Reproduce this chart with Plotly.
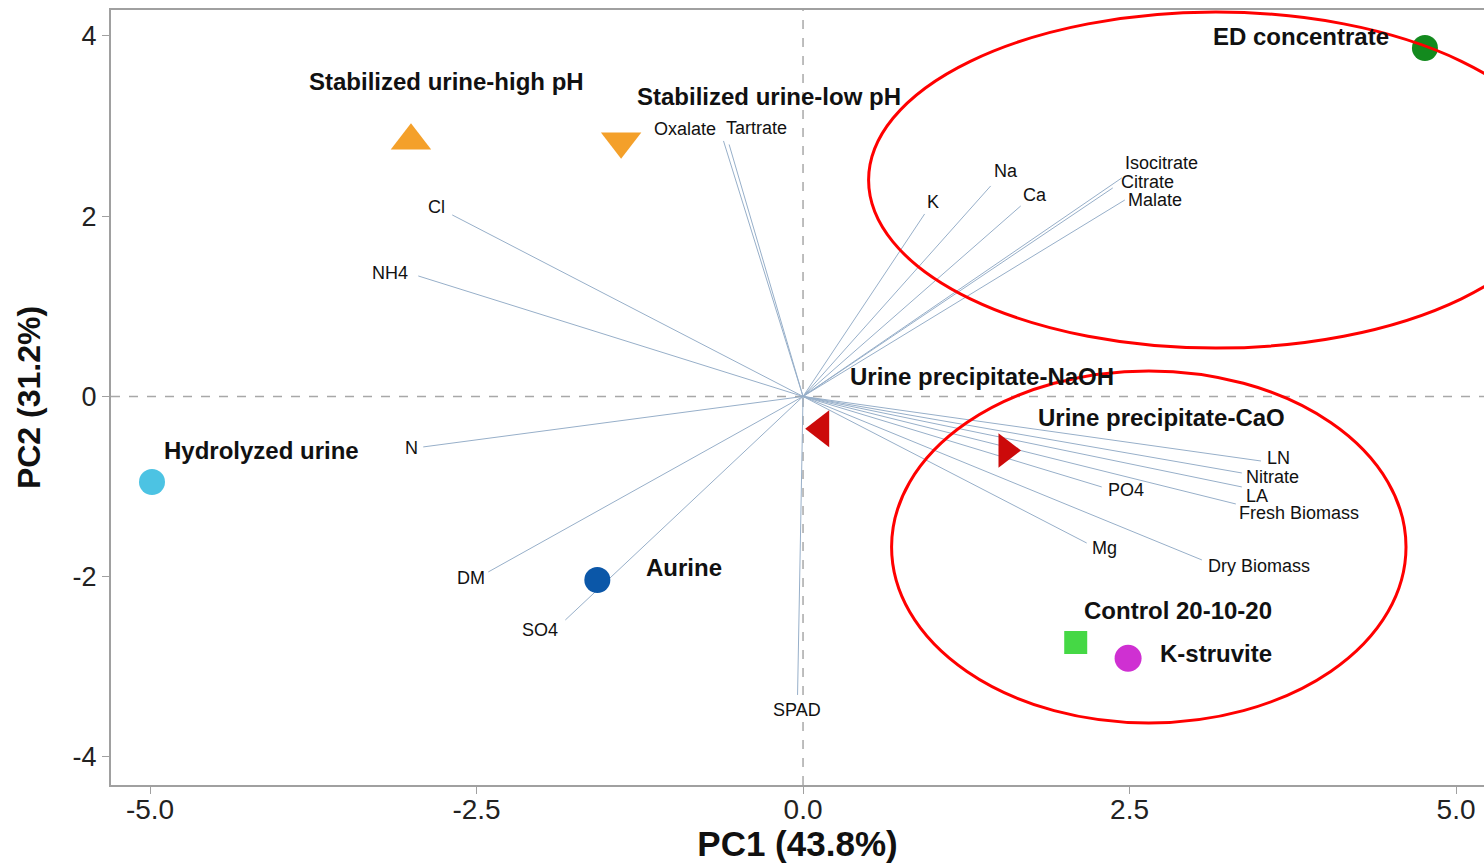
import plotly.graph_objects as go

# Sample scores on the first two principal components
samples = [
    "ED concentrate", "Stabilized urine-high pH", "Stabilized urine-low pH",
    "Hydrolyzed urine", "Aurine", "Urine precipitate-NaOH",
    "Urine precipitate-CaO", "Control 20-10-20", "K-struvite",
]
pc1_scores = [4.762, -3.002, -1.393, -4.985, -1.575, 0.139, 1.554, 2.088, 2.489]
pc2_scores = [3.867, 2.838, 2.832, -0.949, -2.036, -0.358, -0.599, -2.730, -2.905]

# Variable loadings (arrow tips)
variables = [
    "Oxalate", "Tartrate", "Cl", "NH4", "N", "DM", "SO4", "SPAD",
    "K", "Na", "Ca", "Isocitrate", "Citrate", "Malate",
    "LN", "Nitrate", "LA", "Fresh Biomass", "PO4", "Mg", "Dry Biomass",
]
pc1_loadings = [-0.609, -0.566, -2.686, -2.946, -2.908, -2.410, -1.820, -0.042,
                0.931, 1.437, 1.667, 2.441, 2.372, 2.464,
                3.506, 3.360, 3.360, 3.314, 2.287, 2.172, 3.054]
pc2_loadings = [2.835, 2.796, 2.014, 1.337, -0.560, -1.947, -2.480, -3.312,
                2.025, 2.336, 2.114, 2.425, 2.314, 2.180,
                -0.716, -0.849, -1.004, -1.193, -1.004, -1.626, -1.814]

x_ticks = [-5.0, -2.5, 0.0, 2.5, 5.0]
y_ticks = [-4, -2, 0, 2, 4]

# Marker styling per sample
sample_style = {
    "ED concentrate": dict(symbol="circle", color="#138A1E", size=26),
    "Stabilized urine-high pH": dict(symbol="triangle-up", color="#F4A02A", size=35),
    "Stabilized urine-low pH": dict(symbol="triangle-down", color="#F4A02A", size=35),
    "Hydrolyzed urine": dict(symbol="circle", color="#4CC3E3", size=26),
    "Aurine": dict(symbol="circle", color="#0B57A8", size=26),
    "Urine precipitate-NaOH": dict(symbol="triangle-left", color="#CC0A0A", size=32),
    "Urine precipitate-CaO": dict(symbol="triangle-right", color="#CC0A0A", size=30),
    "Control 20-10-20": dict(symbol="square", color="#45D845", size=23),
    "K-struvite": dict(symbol="circle", color="#CF30D2", size=27),
}
# Label offsets (pixels) from each sample point
sample_label_shift = {
    "ED concentrate": (-124, 11),
    "Stabilized urine-high pH": (36, 59),
    "Stabilized urine-low pH": (148, 45),
    "Hydrolyzed urine": (109, 31),
    "Aurine": (87, 12),
    "Urine precipitate-NaOH": (161, 52),
    "Urine precipitate-CaO": (156, 33),
    "Control 20-10-20": (102, 32),
    "K-struvite": (88, 5),
}
# Label offsets (pixels) from each loading tip
var_label_shift = {
    "Oxalate": (-39, 12), "Tartrate": (27, 16), "Cl": (-16, 8), "NH4": (-28, 3),
    "N": (-12, -1), "DM": (-17, -6), "SO4": (-25, -10), "SPAD": (-1, -15),
    "K": (8, 12), "Na": (15, 15), "Ca": (14, 11), "Isocitrate": (40, 15),
    "Citrate": (35, 6), "Malate": (30, 0), "LN": (18, 3), "Nitrate": (31, -4),
    "LA": (15, -9), "Fresh Biomass": (63, -9), "PO4": (24, -3), "Mg": (18, -5),
    "Dry Biomass": (57, -6),
}

FONT = "Liberation Sans, Arial, Helvetica, sans-serif"
TEXT = "#111111"

fig = go.Figure()

# Loading vectors from the origin
lx, ly = [], []
for a, b in zip(pc1_loadings, pc2_loadings):
    lx += [0, a, None]
    ly += [0, b, None]
fig.add_trace(go.Scatter(x=lx, y=ly, mode="lines",
                         line=dict(color="#97AFC9", width=1),
                         hoverinfo="skip", showlegend=False))

# Sample scores
for name, x, y in zip(samples, pc1_scores, pc2_scores):
    st = sample_style[name]
    fig.add_trace(go.Scatter(
        x=[x], y=[y], mode="markers", name=name, showlegend=False,
        marker=dict(symbol=st["symbol"], color=st["color"], size=st["size"],
                    line=dict(width=0)),
    ))

annotations = []
for name, x, y in zip(samples, pc1_scores, pc2_scores):
    dx, dy = sample_label_shift[name]
    annotations.append(dict(
        x=x, y=y, xref="x", yref="y", text=f"<b>{name}</b>", showarrow=False,
        xshift=dx, yshift=dy, xanchor="center", yanchor="middle",
        font=dict(family=FONT, size=24, color=TEXT),
    ))
for name, x, y in zip(variables, pc1_loadings, pc2_loadings):
    dx, dy = var_label_shift[name]
    annotations.append(dict(
        x=x, y=y, xref="x", yref="y", text=name, showarrow=False,
        xshift=dx, yshift=dy, xanchor="center", yanchor="middle", borderpad=0,
        font=dict(family=FONT, size=18, color=TEXT),
    ))

shapes = [
    # dashed reference lines through the origin
    dict(type="line", xref="x", yref="paper", x0=0, x1=0, y0=0, y1=1,
         line=dict(color="#A8A8A8", width=1.5, dash="dash"), layer="below"),
    dict(type="line", xref="paper", yref="y", x0=0, x1=1, y0=0, y1=0,
         line=dict(color="#A8A8A8", width=1.5, dash="dash"), layer="below"),
    # grouping ellipses
    dict(type="circle", xref="x", yref="y", x0=0.502, x1=5.820, y0=0.537, y1=4.265,
         line=dict(color="#FF0000", width=3), layer="above"),
    dict(type="circle", xref="x", yref="y", x0=0.678, x1=4.617, y0=-3.623, y1=0.283,
         line=dict(color="#FF0000", width=3), layer="above"),
]

fig.update_layout(
    width=1484, height=863,
    margin=dict(l=111, r=0, t=10, b=78),
    paper_bgcolor="white", plot_bgcolor="white",
    showlegend=False,
    annotations=annotations, shapes=shapes,
    font=dict(family=FONT, color=TEXT),
)
fig.update_xaxes(
    range=[-5.2989, 5.2142], tickvals=x_ticks,
    ticktext=[f"{v:.1f}" for v in x_ticks],
    showgrid=False, zeroline=False,
    showline=True, linecolor="#A0A0A0", linewidth=2, mirror=True,
    ticks="outside", ticklen=7, tickcolor="#A0A0A0", tickwidth=1,
    ticklabelstandoff=-9,
    tickfont=dict(family=FONT, size=28, color="#222222"),
    title=dict(text="<b>PC1 (43.8%)</b>", font=dict(family=FONT, size=35, color=TEXT),
               standoff=14),
)
fig.update_yaxes(
    range=[-4.311, 4.288], tickvals=y_ticks,
    ticktext=[str(v) for v in y_ticks],
    showgrid=False, zeroline=False,
    showline=True, linecolor="#A0A0A0", linewidth=2, mirror=False,
    ticks="outside", ticklen=7, tickcolor="#A0A0A0", tickwidth=1,
    tickfont=dict(family=FONT, size=27, color="#222222"),
    title=dict(text="<b>PC2 (31.2%)</b>", font=dict(family=FONT, size=32, color=TEXT),
               standoff=22),
)

fig.write_html("out.html")
